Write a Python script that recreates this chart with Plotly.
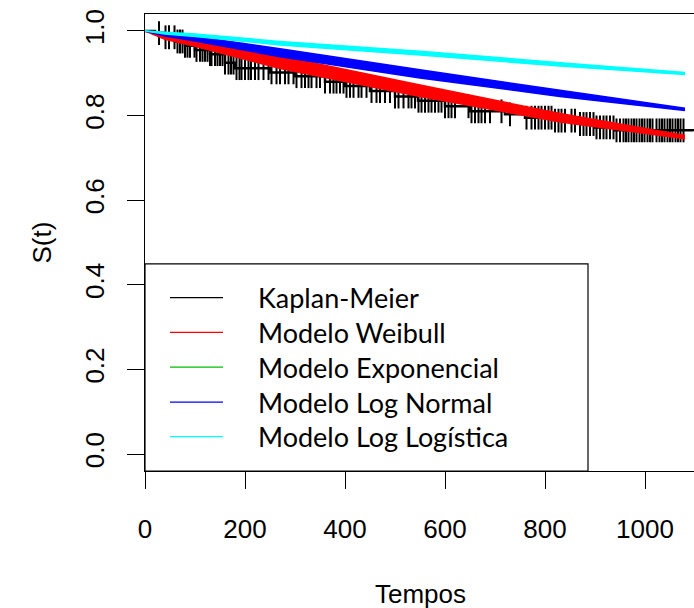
import numpy as np
import plotly.graph_objects as go

# ---------------- data ----------------
# Kaplan-Meier step curve (time, survival)
km_time = [0, 20, 40, 60, 80, 100, 130, 160, 180, 250, 300, 360, 400, 450, 500,
           546, 600, 650, 720, 760, 820, 870, 900, 940, 1096]
km_surv = [1.0, 0.995, 0.985, 0.975, 0.965, 0.955, 0.945, 0.925, 0.912, 0.902,
           0.893, 0.880, 0.870, 0.858, 0.845, 0.835, 0.822, 0.810, 0.803, 0.795,
           0.788, 0.780, 0.772, 0.765, 0.763]

# censoring times (tick marks)
censor_time = [28, 41, 48, 59, 65, 70, 75, 80, 85, 90, 99, 103, 110, 115, 120, 125,
               130, 133, 140, 145, 150, 155, 160, 167, 172, 177, 183, 189, 193, 200,
               207, 212, 220, 227, 237, 247, 253, 263, 270, 280, 287, 297, 303, 313,
               320, 327, 333, 343, 350, 360, 370, 377, 383, 390, 397, 403, 410, 417,
               427, 433, 443, 453, 463, 470, 480, 490, 500, 507, 517, 527, 533, 540,
               547, 553, 560, 567, 573, 580, 587, 593, 600, 607, 613, 620, 647, 653,
               660, 667, 673, 680, 690, 713, 730, 763, 773, 780, 787, 793, 800, 807,
               813, 820, 827, 833, 840, 853, 860, 870, 877, 883, 890, 897, 903, 910,
               917, 923, 930, 937, 943, 950, 957, 962, 967, 973, 978, 983, 989, 994,
               999, 1005, 1010, 1015, 1023, 1029, 1034, 1039, 1045, 1050, 1055, 1061,
               1066, 1071, 1077]

# fitted model bands (time grid, upper and lower survival)
model_time = [0, 40, 100, 270, 550, 830, 1080]
weibull_upper = [1.0, 0.994, 0.985, 0.941, 0.872, 0.805, 0.753]
weibull_lower = [1.0, 0.980, 0.964, 0.911, 0.845, 0.785, 0.745]
lognormal_upper = [1.0, 0.996, 0.987, 0.958, 0.908, 0.859, 0.817]
lognormal_lower = [1.0, 0.988, 0.976, 0.939, 0.889, 0.845, 0.812]
loglogistic_upper = [1.0, 0.997, 0.993, 0.975, 0.952, 0.925, 0.902]
loglogistic_lower = [1.0, 0.993, 0.987, 0.967, 0.943, 0.917, 0.897]

legend_labels = ["Kaplan-Meier", "Modelo Weibull", "Modelo Exponencial",
                 "Modelo Log Normal", "Modelo Log Logística"]
legend_colors = ["black", "red", "#00c000", "blue", "cyan"]

x_ticks = [0, 200, 400, 600, 800, 1000]
y_ticks = [0.0, 0.2, 0.4, 0.6, 0.8, 1.0]

# ---------------- figure ----------------
fig = go.Figure()

# KM step curve
fig.add_trace(go.Scatter(x=km_time, y=km_surv, mode="lines", line_shape="hv",
                         line=dict(color="black", width=2.5), hoverinfo="skip"))
# censor marks placed on the KM curve
kt = np.array(km_time)
ks = np.array(km_surv)
cy = ks[np.searchsorted(kt, np.array(censor_time), side="right") - 1]
fig.add_trace(go.Scatter(x=censor_time, y=cy, mode="markers",
                         marker=dict(symbol="line-ns-open", size=17, color="black",
                                     line=dict(color="black", width=2)),
                         hoverinfo="skip"))


def band(upper, lower, color):
    fig.add_trace(go.Scatter(x=model_time, y=lower, mode="lines",
                             line=dict(color=color, width=1.5), hoverinfo="skip"))
    fig.add_trace(go.Scatter(x=model_time, y=upper, mode="lines", fill="tonexty",
                             fillcolor=color,
                             line=dict(color=color, width=1.5), hoverinfo="skip"))


band(weibull_upper, weibull_lower, "red")
band(lognormal_upper, lognormal_lower, "blue")
band(loglogistic_upper, loglogistic_lower, "cyan")

# legend box (drawn manually, R style)
fig.add_shape(type="rect", xref="x", yref="y", x0=0, x1=886, y0=-0.04, y1=0.4496,
              line=dict(color="black", width=1.2), fillcolor="white", layer="above")
row_y = [0.3696, 0.2874, 0.2057, 0.1226, 0.0411]
for lab, col, ry in zip(legend_labels, legend_colors, row_y):
    fig.add_shape(type="line", xref="x", yref="y", x0=50, x1=156, y0=ry, y1=ry,
                  line=dict(color=col, width=1.2), layer="above")
    fig.add_annotation(x=222, y=ry, xref="x", yref="y", text=lab, showarrow=False,
                       xanchor="left", yanchor="middle",
                       font=dict(family="Lato", size=27, color="black"))

# axis titles
fig.add_annotation(x=(420 - 145) / 549, y=(471 - 594) / 457, xref="paper", yref="paper",
                   text="Tempos", showarrow=False, xanchor="center", yanchor="middle",
                   font=dict(family="Liberation Sans", size=26, color="black"))
fig.add_annotation(x=(41 - 145) / 549, y=0.5, xref="paper", yref="paper",
                   text="S(t)", showarrow=False, textangle=-90,
                   xanchor="center", yanchor="middle",
                   font=dict(family="Liberation Sans", size=26, color="black"))

fig.update_layout(
    width=694, height=608,
    margin=dict(l=145, r=0, t=14, b=137),
    paper_bgcolor="white", plot_bgcolor="white",
    showlegend=False,
    font=dict(family="Liberation Sans", size=26, color="black"),
    xaxis=dict(range=[0, 1098], tickvals=x_ticks, ticktext=[str(v) for v in x_ticks],
               showgrid=False, zeroline=False, showline=True, mirror=True,
               linecolor="black", linewidth=1.2, ticks="outside", ticklen=17,
               tickwidth=1, tickcolor="black", ticklabelstandoff=18),
    yaxis=dict(range=[-0.04, 1.04], tickvals=y_ticks,
               ticktext=["%.1f" % v for v in y_ticks], tickangle=-90,
               showgrid=False, zeroline=False, showline=True, mirror=False,
               linecolor="black", linewidth=1.2, ticks="outside", ticklen=17,
               tickwidth=1, tickcolor="black", ticklabelstandoff=13),
)

fig.write_html("out.html")
